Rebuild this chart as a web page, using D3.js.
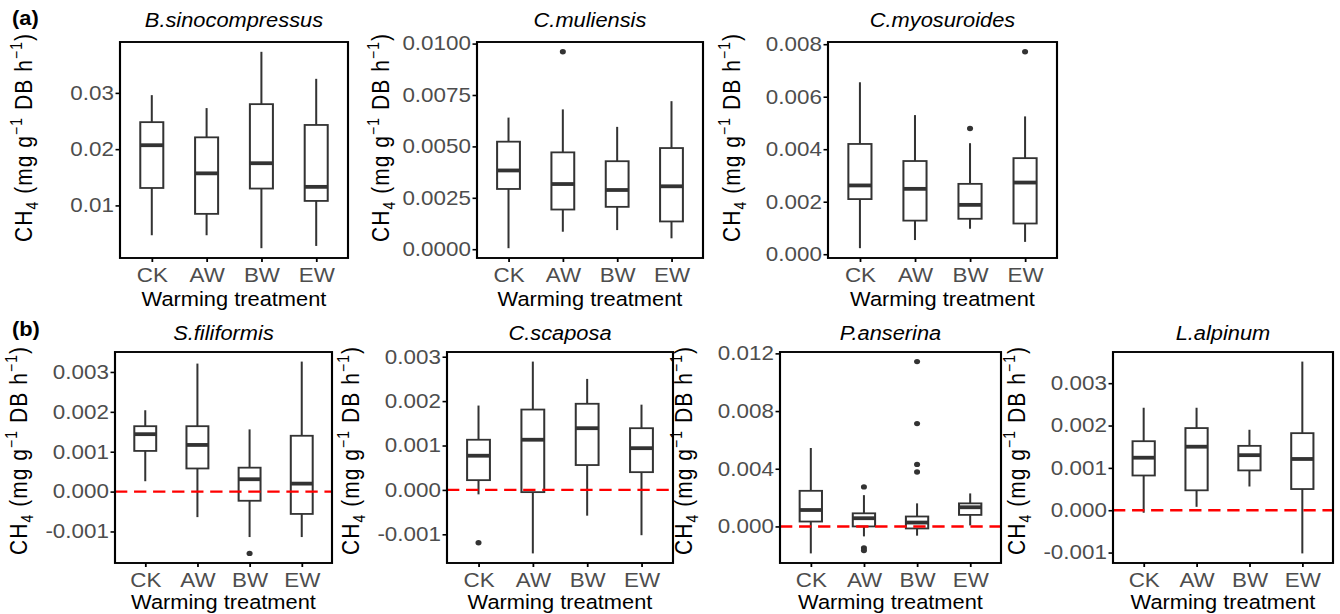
<!DOCTYPE html>
<html>
<head>
<meta charset="utf-8">
<script src="https://cdn.jsdelivr.net/npm/d3@7"></script>
<style>
  body { margin: 0; background: #fff; }
  svg { display: block; font-family: "Liberation Sans", Arial, sans-serif; }
</style>
</head>
<body>
<svg id="chart"></svg>
<script>
// values: one row per species, one entry per treatment
var species = ["B.sinocompressus", "C.muliensis", "C.myosuroides",
               "S.filiformis", "C.scaposa", "P.anserina", "L.alpinum"];
var groups = ["CK", "AW", "BW", "EW"];

var lowerWhisker = [
  [0.0047, 0.0047, 0.0024, 0.0028],
  [0.00005, 0.00085, 0.00093, 0.00053],
  [0.00023, 0.00054, 0.00097, 0.00047],
  [0.00026, -0.00064, -0.00114, -0.00114],
  [-0.0001, -0.00143, -0.00058, -0.00102],
  [-0.00187, -0.00069, -0.00064, 0.00007],
  [-0.00006, 0.00008, 0.00056, -0.00102]
];
var q1 = [
  [0.0131, 0.0085, 0.0130, 0.0108],
  [0.00293, 0.00193, 0.00206, 0.00135],
  [0.0021, 0.00128, 0.00135, 0.00117],
  [0.00102, 0.00058, -0.00023, -0.00056],
  [0.00022, -0.00005, 0.00056, 0.0004],
  [0.00034, 0.0, -0.00014, 0.0008],
  [0.00082, 0.00047, 0.00094, 0.0005]
];
var median = [
  [0.0207, 0.0157, 0.0175, 0.0133],
  [0.00383, 0.00317, 0.00288, 0.00306],
  [0.00262, 0.00249, 0.00188, 0.00273],
  [0.00144, 0.00117, 0.00031, 0.0002],
  [0.00077, 0.00113, 0.00139, 0.00094],
  [0.00114, 0.00057, 0.00027, 0.00133],
  [0.00124, 0.0015, 0.0013, 0.00121]
];
var q3 = [
  [0.0248, 0.0221, 0.0280, 0.0243],
  [0.00523, 0.00471, 0.00428, 0.00492],
  [0.0042, 0.00355, 0.00268, 0.00366],
  [0.00164, 0.00164, 0.0006, 0.0014],
  [0.00113, 0.00181, 0.00194, 0.00139],
  [0.00247, 0.00091, 0.00069, 0.0016],
  [0.00163, 0.00194, 0.00152, 0.00182]
];
var upperWhisker = [
  [0.0296, 0.0273, 0.0373, 0.0325],
  [0.0064, 0.0068, 0.00595, 0.0072],
  [0.00655, 0.0053, 0.00423, 0.00525],
  [0.00204, 0.00321, 0.00156, 0.00326],
  [0.0019, 0.00289, 0.0025, 0.00192],
  [0.00544, 0.00217, 0.0016, 0.00229],
  [0.00242, 0.00242, 0.0019, 0.00351]
];
var outliers = [
  [[], [], [], []],
  [[], [0.0096], [], []],
  [[], [], [0.00479], [0.00771]],
  [[], [], [-0.00155], []],
  [[-0.00119], [], [], []],
  [[], [0.00274, -0.00149, -0.00167], [0.01143, 0.00713, 0.0043, 0.00377], []],
  [[], [], [], []]
];

var yTicks = [
  [0.01, 0.02, 0.03],
  [0, 0.0025, 0.005, 0.0075, 0.01],
  [0, 0.002, 0.004, 0.006, 0.008],
  [-0.001, 0, 0.001, 0.002, 0.003],
  [-0.001, 0, 0.001, 0.002, 0.003],
  [0, 0.004, 0.008, 0.012],
  [-0.001, 0, 0.001, 0.002, 0.003]
];
var yTickLabels = [
  ["0.01", "0.02", "0.03"],
  ["0.0000", "0.0025", "0.0050", "0.0075", "0.0100"],
  ["0.000", "0.002", "0.004", "0.006", "0.008"],
  ["-0.001", "0.000", "0.001", "0.002", "0.003"],
  ["-0.001", "0.000", "0.001", "0.002", "0.003"],
  ["0.000", "0.004", "0.008", "0.012"],
  ["-0.001", "0.000", "0.001", "0.002", "0.003"]
];
var zeroLine = [false, false, false, true, true, true, true];
var rowTags = ["(a)", "(b)"];
var xTitle = "Warming treatment";

// layout (pixels of the final picture)
var W = 1340, H = 614;
var SX = 1.12;   // the original figure is stretched sideways
var frames = [
  {l: 120, r: 348, t: 42, b: 258, row: 0},
  {l: 477, r: 703, t: 42, b: 258, row: 0},
  {l: 828, r: 1057, t: 42, b: 258, row: 0},
  {l: 115, r: 332, t: 352, b: 563, row: 1},
  {l: 447, r: 673, t: 352, b: 563, row: 1},
  {l: 780, r: 1001, t: 352, b: 563, row: 1},
  {l: 1113, r: 1333, t: 352, b: 563, row: 1}
];
var rowTitleY = [27, 340];
var rowYTitleMid = [138, 451];
var rowXTitleY = [306, 609];
var rowTagY = [25, 336];

var ink = "#333333";
var fsTick = 20, fsTitle = 19.5;

var svg = d3.select("#chart")
  .attr("width", W)
  .attr("height", H)
  .attr("viewBox", "0 0 " + (W / SX) + " " + H)
  .attr("preserveAspectRatio", "none");

svg.append("rect").attr("width", W / SX).attr("height", H).attr("fill", "#fff");

rowTags.forEach(function(t, r) {
  svg.append("text")
    .attr("x", 12 / SX)
    .attr("y", rowTagY[r])
    .attr("font-size", fsTitle)
    .attr("font-weight", "bold")
    .text(t);
});

var drawPanel = function(i)
{
  var f = frames[i];
  var g = svg.append("g");

  var vals = lowerWhisker[i].concat(upperWhisker[i]);
  outliers[i].forEach(function(o) { vals = vals.concat(o); });
  var ext = d3.extent(vals);
  var pad = (ext[1] - ext[0]) * 0.05;

  var y = d3.scaleLinear()
    .domain([ext[0] - pad, ext[1] + pad])
    .range([f.b, f.t]);
  var x = d3.scalePoint()
    .domain(groups)
    .range([f.l / SX, f.r / SX])
    .padding(0.58);
  var bw = x.step() * 0.42;

  var rows = groups.map(function(k, j) {
    return {k: k, lo: lowerWhisker[i][j], q1: q1[i][j], med: median[i][j],
            q3: q3[i][j], hi: upperWhisker[i][j], out: outliers[i][j]};
  });

  // whiskers
  g.selectAll("line.wl").data(rows).enter().append("line")
    .attr("x1", function(d) { return x(d.k); })
    .attr("x2", function(d) { return x(d.k); })
    .attr("y1", function(d) { return y(d.lo); })
    .attr("y2", function(d) { return y(d.hi); })
    .attr("stroke", ink)
    .attr("stroke-width", 1.8);

  // boxes
  g.selectAll("rect.box").data(rows).enter().append("rect")
    .attr("x", function(d) { return x(d.k) - bw / 2; })
    .attr("y", function(d) { return y(d.q3); })
    .attr("width", bw)
    .attr("height", function(d) { return y(d.q1) - y(d.q3); })
    .attr("fill", "#fff")
    .attr("stroke", ink)
    .attr("stroke-width", 1.8);

  // medians
  g.selectAll("line.med").data(rows).enter().append("line")
    .attr("x1", function(d) { return x(d.k) - bw / 2; })
    .attr("x2", function(d) { return x(d.k) + bw / 2; })
    .attr("y1", function(d) { return y(d.med); })
    .attr("y2", function(d) { return y(d.med); })
    .attr("stroke", ink)
    .attr("stroke-width", 3.8);

  // outliers
  rows.forEach(function(d) {
    g.selectAll(null).data(d.out).enter().append("circle")
      .attr("cx", x(d.k))
      .attr("cy", function(v) { return y(v); })
      .attr("r", 2.7)
      .attr("fill", ink);
  });

  if (zeroLine[i]) {
    g.append("line")
      .attr("x1", f.l / SX).attr("x2", f.r / SX)
      .attr("y1", y(0)).attr("y2", y(0))
      .attr("stroke", "#ff0000")
      .attr("stroke-width", 2.4)
      .attr("stroke-dasharray", "11,6");
  }

  g.append("rect")
    .attr("x", f.l / SX).attr("y", f.t)
    .attr("width", (f.r - f.l) / SX).attr("height", f.b - f.t)
    .attr("fill", "none")
    .attr("stroke", "#000")
    .attr("stroke-width", 1.9);

  var ay = g.append("g")
    .attr("transform", "translate(" + (f.l / SX) + ",0)")
    .call(d3.axisLeft(y).tickValues(yTicks[i])
      .tickFormat(function(d, k) { return yTickLabels[i][k]; })
      .tickSize(4).tickPadding(1.5));
  var ax = g.append("g")
    .attr("transform", "translate(0," + f.b + ")")
    .call(d3.axisBottom(x).tickSize(4).tickPadding(6));

  [ay, ax].forEach(function(a) {
    a.select(".domain").remove();
    a.selectAll(".tick line").attr("stroke", "#000").attr("stroke-width", 1.6);
    a.selectAll(".tick text")
      .attr("fill", "#4d4d4d")
      .attr("font-size", fsTick)
      .attr("font-family", "Liberation Sans, Arial, sans-serif");
  });

  var cx = (f.l + f.r) / 2 / SX;
  g.append("text")
    .attr("x", cx).attr("y", rowTitleY[f.row])
    .attr("text-anchor", "middle")
    .attr("font-size", fsTitle)
    .attr("font-style", "italic")
    .text(species[i]);

  g.append("text")
    .attr("x", cx).attr("y", rowXTitleY[f.row])
    .attr("text-anchor", "middle")
    .attr("font-size", fsTitle)
    .text(xTitle);

  // CH4 (mg g-1 DB h-1), written the way plotmath spaces it
  var yt = g.append("text")
    .attr("transform", "translate(" + ((f.l - 88) / SX) + "," + rowYTitleMid[f.row] + ") rotate(-90)")
    .attr("text-anchor", "middle")
    .attr("font-size", 21)
    .attr("textLength", 208)
    .attr("lengthAdjust", "spacing");
  yt.append("tspan").text("CH");
  yt.append("tspan").attr("font-size", 14).attr("dy", 5).text("4");
  yt.append("tspan").attr("dy", -5).text(" (mg g");
  yt.append("tspan").attr("font-size", 14).attr("dy", -9).text("\u22121");
  yt.append("tspan").attr("dy", 9).text(" DB h");
  yt.append("tspan").attr("font-size", 14).attr("dy", -9).text("\u22121");
  yt.append("tspan").attr("dy", 9).text(")");
}

for (var i = 0; i < species.length; i++) {
  drawPanel(i);
}
</script>
</body>
</html>
